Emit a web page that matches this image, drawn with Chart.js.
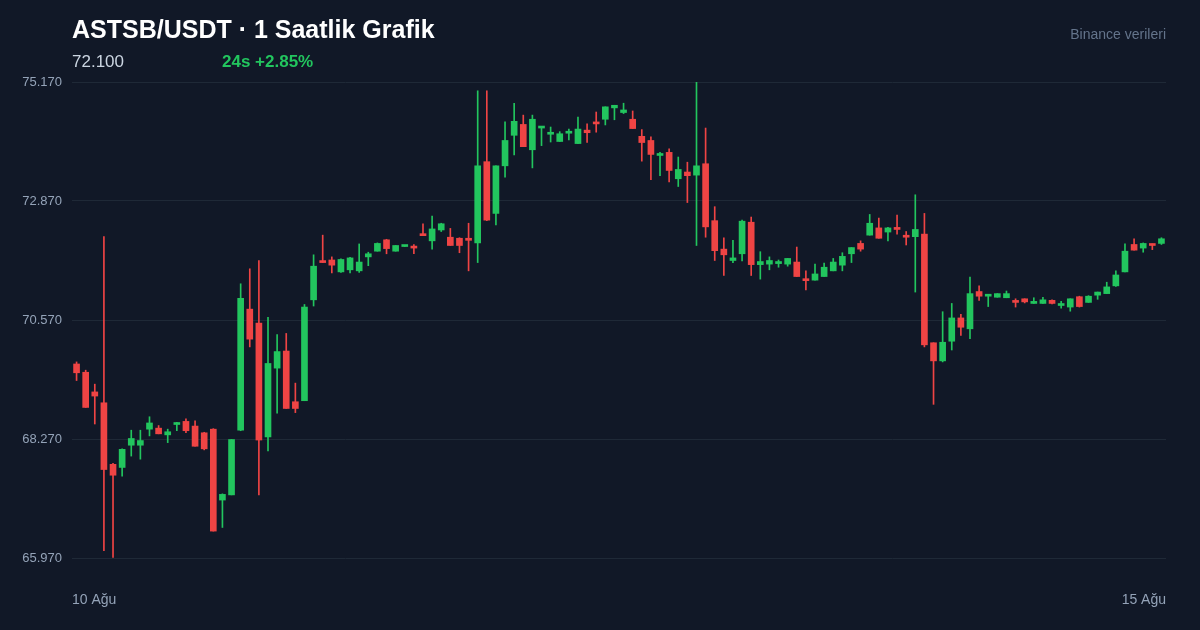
<!DOCTYPE html>
<html lang="tr">
<head>
<meta charset="utf-8">
<title>ASTSB/USDT 1 Saatlik Grafik</title>
<script src="https://cdn.jsdelivr.net/npm/chart.js@4/dist/chart.umd.min.js"></script>
<style>
  html, body { margin: 0; padding: 0; background: #111827; }
  body { width: 1200px; height: 630px; position: relative; overflow: hidden; font-family: "Liberation Sans", Arial, sans-serif; }
  #title { position: absolute; left: 72px; top: 15px; color: #ffffff; font-size: 25px; font-weight: bold; }
  #price { position: absolute; left: 72px; top: 52px; color: #cbd5e1; font-size: 17px; }
  #change { position: absolute; left: 222px; top: 52px; color: #22c55e; font-size: 17px; font-weight: bold; }
  #source { position: absolute; right: 34px; top: 26px; color: #64748b; font-size: 14px; }
  #wrap { position: absolute; left: 0; top: 0; width: 1200px; height: 630px; }
</style>
</head>
<body>
<div id="wrap"><canvas id="chart" width="1200" height="630"></canvas></div>
<div id="title">ASTSB/USDT · 1 Saatlik Grafik</div>
<div id="price">72.100</div>
<div id="change">24s +2.85%</div>
<div id="source">Binance verileri</div>

<script>
// hourly candles, 10 Ağu 00:00 -> 14 Ağu 23:00
var opens = [
  69.72, 69.56, 69.18, 68.97, 67.78, 67.72, 68.15, 68.15, 68.46, 68.48,
  68.35, 68.55, 68.61, 68.52, 68.39, 68.46, 67.09, 67.19, 68.44, 70.78,
  70.51, 68.31, 69.64, 69.97, 68.99, 69.01, 70.96, 71.71, 71.73, 71.50,
  71.54, 71.52, 71.79, 71.90, 72.12, 71.90, 71.99, 71.98, 72.23, 72.10,
  72.31, 72.17, 72.15, 72.15, 72.06, 73.63, 72.63, 73.55, 74.14, 74.35,
  73.86, 74.28, 74.16, 74.02, 74.18, 73.98, 74.24, 74.39, 74.45, 74.67,
  74.58, 74.45, 74.12, 74.04, 73.75, 73.81, 73.30, 73.43, 73.37, 73.59,
  72.49, 71.94, 71.72, 71.85, 72.46, 71.64, 71.65, 71.66, 71.65, 71.69,
  71.36, 71.34, 71.41, 71.52, 71.63, 71.85, 72.05, 72.21, 72.35, 72.27,
  72.36, 72.19, 72.18, 72.23, 70.13, 69.78, 70.16, 70.61, 70.40, 71.12,
  71.03, 71.01, 71.00, 70.94, 70.98, 70.89, 70.89, 70.95, 70.85, 70.82,
  71.02, 70.91, 71.05, 71.08, 71.23, 71.50, 72.03, 71.96, 72.04, 72.05
];
var highs = [
  69.76, 69.60, 69.33, 72.18, 67.80, 68.08, 68.44, 68.44, 68.70, 68.53,
  68.46, 68.59, 68.66, 68.62, 68.40, 68.47, 67.21, 68.26, 71.27, 71.56,
  71.72, 70.62, 70.29, 70.31, 69.35, 70.87, 71.83, 72.21, 71.79, 71.75,
  71.78, 72.04, 71.88, 72.06, 72.13, 72.01, 72.01, 72.03, 72.43, 72.58,
  72.44, 72.34, 72.16, 72.44, 75.00, 75.00, 73.55, 74.40, 74.76, 74.53,
  74.53, 74.29, 74.30, 74.21, 74.26, 74.49, 74.36, 74.59, 74.69, 74.72,
  74.76, 74.61, 74.25, 74.11, 73.81, 73.88, 73.72, 73.62, 75.17, 74.28,
  72.76, 72.16, 72.11, 72.50, 72.56, 71.89, 71.79, 71.73, 71.76, 71.98,
  71.52, 71.65, 71.67, 71.76, 71.87, 71.97, 72.10, 72.61, 72.54, 72.36,
  72.60, 72.28, 72.99, 72.63, 70.13, 70.73, 70.89, 70.68, 71.40, 71.23,
  71.06, 71.08, 71.13, 70.98, 70.98, 71.00, 71.01, 70.96, 70.93, 70.98,
  71.03, 71.04, 71.11, 71.30, 71.52, 72.04, 72.14, 72.06, 72.04, 72.16
];
var lows = [
  69.40, 68.88, 68.56, 66.11, 65.98, 67.55, 67.94, 67.88, 68.33, 68.37,
  68.20, 68.43, 68.39, 68.13, 68.06, 66.49, 66.56, 67.19, 68.43, 70.05,
  67.19, 68.04, 68.77, 68.86, 68.78, 69.01, 70.84, 71.68, 71.48, 71.49,
  71.48, 71.49, 71.62, 71.90, 71.85, 71.90, 71.99, 71.85, 72.20, 71.94,
  72.28, 72.01, 71.87, 71.52, 71.68, 72.49, 72.41, 73.33, 73.76, 73.92,
  73.51, 73.94, 74.01, 74.02, 74.05, 73.98, 74.00, 74.20, 74.34, 74.44,
  74.56, 74.27, 73.64, 73.28, 73.36, 73.24, 73.15, 72.84, 72.01, 72.17,
  71.72, 71.43, 71.68, 71.71, 71.43, 71.36, 71.54, 71.59, 71.61, 71.41,
  71.15, 71.34, 71.41, 71.52, 71.52, 71.68, 71.90, 72.21, 72.15, 72.10,
  72.23, 72.02, 71.11, 70.05, 68.94, 69.76, 69.99, 70.27, 70.21, 70.95,
  70.83, 71.01, 71.00, 70.82, 70.90, 70.89, 70.89, 70.88, 70.80, 70.74,
  70.82, 70.91, 70.97, 71.08, 71.22, 71.50, 71.92, 71.88, 71.93, 72.03
];
var closes = [
  69.55, 68.88, 69.10, 67.68, 67.57, 68.07, 68.28, 68.24, 68.58, 68.37,
  68.41, 68.58, 68.43, 68.13, 68.08, 66.49, 67.20, 68.26, 70.99, 70.20,
  68.25, 69.73, 69.96, 68.86, 68.86, 70.82, 71.61, 71.68, 71.63, 71.74,
  71.77, 71.69, 71.85, 72.05, 71.95, 72.01, 72.01, 71.96, 72.20, 72.33,
  72.43, 72.01, 72.01, 72.11, 73.55, 72.50, 73.55, 74.04, 74.41, 73.92,
  74.45, 74.29, 74.18, 74.17, 74.20, 74.26, 74.19, 74.36, 74.69, 74.72,
  74.63, 74.27, 74.00, 73.77, 73.78, 73.46, 73.48, 73.36, 73.55, 72.37,
  71.91, 71.83, 71.77, 72.48, 71.64, 71.70, 71.72, 71.70, 71.76, 71.41,
  71.33, 71.46, 71.59, 71.69, 71.80, 71.97, 71.94, 72.44, 72.15, 72.35,
  72.32, 72.17, 72.32, 70.09, 69.78, 70.14, 70.61, 70.43, 71.08, 71.03,
  71.06, 71.08, 71.08, 70.91, 70.92, 70.93, 70.96, 70.89, 70.88, 70.98,
  70.83, 71.03, 71.11, 71.21, 71.44, 71.90, 71.92, 72.05, 72.01, 72.14
];
var yTicks = [65.97, 68.27, 70.57, 72.87, 75.17];
var xEndLabels = ['10 Ağu', '15 Ağu'];

var UP = '#22c55e', DOWN = '#ef4444';

var hours = opens.map(function (o, i) { return 'h' + i; });
var colors = opens.map(function (o, i) { return closes[i] >= o ? UP : DOWN; });
var bodies = opens.map(function (o, i) { return [Math.min(o, closes[i]), Math.max(o, closes[i])]; });
var wicks = lows.map(function (l, i) { return [l, highs[i]]; });

// date labels under the plot, pinned to its left and right edge
var dateLabels = {
  id: 'dateLabels',
  afterDraw: function (chart) {
    var ctx = chart.ctx, area = chart.chartArea;
    ctx.save();
    ctx.font = '14px "Liberation Sans", Arial, sans-serif';
    ctx.fillStyle = '#94a3b8';
    ctx.textBaseline = 'middle';
    ctx.textAlign = 'left';
    ctx.fillText(xEndLabels[0], area.left, 600);
    ctx.textAlign = 'right';
    ctx.fillText(xEndLabels[1], area.right, 600);
    ctx.restore();
  }
};

new Chart(document.getElementById('chart'), {
  type: 'bar',
  data: {
    labels: hours,
    datasets: [{
      label: 'govde',
      data: bodies,
      backgroundColor: colors,
      borderWidth: 0,
      barThickness: 6,
      minBarLength: 2,
      grouped: false,
      order: 0
    }, {
      label: 'fitil',
      data: wicks,
      backgroundColor: colors,
      borderWidth: 0,
      barThickness: 1,
      grouped: false,
      order: 1
    }]
  },
  options: {
    responsive: false,
    animation: false,
    layout: { padding: { top: 82, right: 34, bottom: 0, left: 0 } },
    plugins: { legend: { display: false }, tooltip: { enabled: false } },
    scales: {
      x: {
        grid: { display: false, drawTicks: false },
        border: { display: false },
        ticks: { display: false },
        afterFit: function (scale) { scale.height = 72; }
      },
      y: {
        min: 65.97,
        max: 75.17,
        afterBuildTicks: function (scale) {
          scale.ticks = yTicks.map(function (v) { return { value: v }; });
        },
        afterFit: function (scale) { scale.width = 72; },
        grid: { color: '#1f2937', lineWidth: 1, drawTicks: false },
        border: { display: false },
        ticks: {
          padding: 10,
          color: '#94a3b8',
          font: { family: '"Liberation Sans", Arial, sans-serif', size: 13 },
          callback: function (v) { return Number(v).toFixed(3); }
        }
      }
    }
  },
  plugins: [dateLabels]
});
</script>
</body>
</html>
